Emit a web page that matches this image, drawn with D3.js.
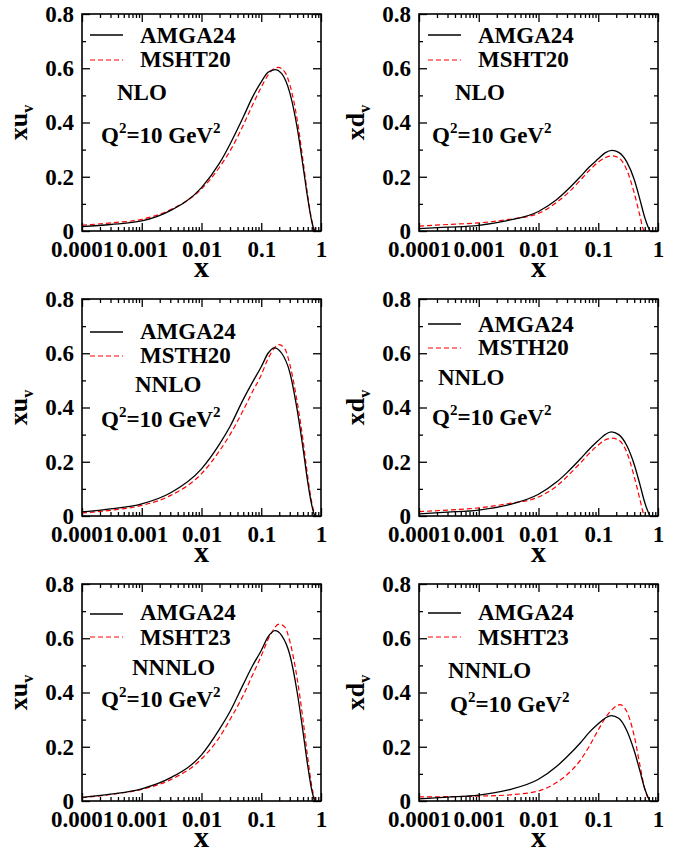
<!DOCTYPE html>
<html><head><meta charset="utf-8">
<script src="https://cdn.jsdelivr.net/npm/d3@7"></script>
<style>body{margin:0;background:#fff}svg{display:block}</style>
</head><body>
<script>
// ---------- data ----------
const xTickValues = [1e-4, 1e-3, 1e-2, 1e-1, 1];
const xTickLabels = ["0.0001", "0.001", "0.01", "0.1", "1"];
const yTickValues = [0, 0.2, 0.4, 0.6, 0.8];
const yTickLabels = ["0", "0.2", "0.4", "0.6", "0.8"];
const yMinorValues = [0.1, 0.3, 0.5, 0.7];
const seriesNames = ["AMGA24", "MSHT20", "MSTH20", "MSHT23"];
const orderLabels = ["NLO", "NNLO", "NNNLO"];

const xuv_NLO_AMGA = [[1e-4,0.016],[3e-4,0.024],[1e-3,0.037],[3e-3,0.075],[0.01,0.16],[0.02,0.25],[0.03,0.32],[0.05,0.42],[0.07,0.49],[0.1,0.55],[0.13,0.585],[0.17,0.595],[0.22,0.58],[0.3,0.51],[0.4,0.38],[0.5,0.24],[0.6,0.12],[0.7,0.035],[0.77,0]];
const xuv_NLO_MSHT = [[1e-4,0.021],[3e-4,0.03],[1e-3,0.043],[3e-3,0.078],[0.01,0.155],[0.02,0.235],[0.03,0.295],[0.05,0.39],[0.07,0.46],[0.1,0.53],[0.13,0.575],[0.19,0.603],[0.25,0.585],[0.3,0.54],[0.4,0.41],[0.5,0.26],[0.6,0.13],[0.7,0.04],[0.79,0]];
const xdv_NLO_AMGA = [[1e-4,0.009],[3e-4,0.014],[1e-3,0.021],[3e-3,0.038],[0.01,0.072],[0.02,0.115],[0.03,0.15],[0.05,0.2],[0.07,0.235],[0.1,0.266],[0.13,0.288],[0.17,0.297],[0.22,0.29],[0.3,0.255],[0.4,0.19],[0.5,0.115],[0.6,0.05],[0.7,0.01],[0.74,0]];
const xdv_NLO_MSHT = [[1e-4,0.018],[3e-4,0.024],[1e-3,0.03],[3e-3,0.042],[0.01,0.065],[0.02,0.105],[0.03,0.137],[0.05,0.187],[0.07,0.222],[0.1,0.254],[0.13,0.27],[0.17,0.277],[0.22,0.27],[0.3,0.225],[0.4,0.14],[0.5,0.055],[0.57,0.005],[0.6,0]];
const xuv_NNLO_AMGA = [[1e-4,0.015],[3e-4,0.026],[1e-3,0.045],[3e-3,0.085],[0.01,0.174],[0.02,0.265],[0.03,0.33],[0.05,0.43],[0.07,0.49],[0.1,0.55],[0.13,0.6],[0.165,0.62],[0.22,0.6],[0.3,0.53],[0.4,0.39],[0.5,0.25],[0.6,0.125],[0.7,0.04],[0.78,0]];
const xuv_NNLO_MSHT = [[1e-4,0.011],[3e-4,0.021],[1e-3,0.039],[3e-3,0.075],[0.01,0.156],[0.02,0.24],[0.03,0.3],[0.05,0.39],[0.07,0.455],[0.1,0.52],[0.13,0.58],[0.2,0.632],[0.25,0.615],[0.3,0.56],[0.4,0.42],[0.5,0.28],[0.6,0.145],[0.7,0.05],[0.8,0]];
const xdv_NNLO_AMGA = [[1e-4,0.008],[3e-4,0.014],[1e-3,0.022],[3e-3,0.04],[0.01,0.08],[0.02,0.125],[0.03,0.16],[0.05,0.21],[0.07,0.245],[0.1,0.278],[0.13,0.3],[0.165,0.31],[0.22,0.3],[0.3,0.26],[0.4,0.19],[0.5,0.115],[0.6,0.05],[0.7,0.01],[0.74,0]];
const xdv_NNLO_MSHT = [[1e-4,0.016],[3e-4,0.022],[1e-3,0.03],[3e-3,0.045],[0.01,0.07],[0.02,0.11],[0.03,0.145],[0.05,0.195],[0.07,0.23],[0.1,0.262],[0.13,0.28],[0.17,0.287],[0.22,0.28],[0.3,0.235],[0.4,0.145],[0.5,0.06],[0.57,0.01],[0.6,0]];
const xuv_NNNLO_AMGA = [[1e-4,0.013],[3e-4,0.025],[1e-3,0.045],[3e-3,0.085],[0.01,0.17],[0.02,0.265],[0.03,0.33],[0.05,0.43],[0.07,0.495],[0.1,0.555],[0.13,0.605],[0.17,0.628],[0.22,0.61],[0.3,0.54],[0.4,0.4],[0.5,0.255],[0.6,0.13],[0.7,0.04],[0.78,0]];
const xuv_NNNLO_MSHT = [[1e-4,0.012],[3e-4,0.024],[1e-3,0.043],[3e-3,0.078],[0.01,0.155],[0.02,0.235],[0.03,0.3],[0.05,0.39],[0.07,0.46],[0.1,0.535],[0.14,0.61],[0.2,0.652],[0.25,0.64],[0.3,0.59],[0.4,0.45],[0.5,0.3],[0.6,0.16],[0.7,0.055],[0.8,0]];
const xdv_NNNLO_AMGA = [[1e-4,0.008],[3e-4,0.014],[1e-3,0.022],[3e-3,0.04],[0.01,0.08],[0.02,0.127],[0.03,0.163],[0.05,0.214],[0.07,0.252],[0.1,0.285],[0.13,0.305],[0.165,0.315],[0.22,0.305],[0.3,0.26],[0.4,0.185],[0.5,0.11],[0.6,0.045],[0.7,0.008],[0.73,0]];
const xdv_NNNLO_MSHT = [[1e-4,0.015],[3e-4,0.016],[1e-3,0.018],[3e-3,0.022],[0.01,0.037],[0.02,0.068],[0.03,0.097],[0.05,0.15],[0.07,0.2],[0.1,0.262],[0.13,0.305],[0.17,0.337],[0.23,0.355],[0.3,0.33],[0.4,0.24],[0.5,0.13],[0.6,0.045],[0.7,0.005],[0.72,0]];

// ---------- layout ----------
const W = 685, H = 850;
const colX = [82, 419], pw = 239;
const rowY = [14, 299, 584], ph = 217;
const FONT = "'Liberation Serif','Times New Roman',serif";

const panels = [
  {r:0,c:0,q:"u",ord:0,ref:1,a:xuv_NLO_AMGA,b:xuv_NLO_MSHT, leg:[{lx:8,ly:21,ty:29},{lx:8,ly:46,ty:53}],  tx:58, ordPos:[35,86], qPos:[19,129]},
  {r:0,c:1,q:"d",ord:0,ref:1,a:xdv_NLO_AMGA,b:xdv_NLO_MSHT, leg:[{lx:9,ly:21,ty:29},{lx:9,ly:46,ty:53}],  tx:59, ordPos:[36,86], qPos:[13,129]},
  {r:1,c:0,q:"u",ord:1,ref:2,a:xuv_NNLO_AMGA,b:xuv_NNLO_MSHT, leg:[{lx:8,ly:33,ty:40},{lx:8,ly:57,ty:64}], tx:58, ordPos:[53,93], qPos:[19,128]},
  {r:1,c:1,q:"d",ord:1,ref:2,a:xdv_NNLO_AMGA,b:xdv_NNLO_MSHT, leg:[{lx:9,ly:25,ty:33},{lx:9,ly:49,ty:56}], tx:59, ordPos:[19,86], qPos:[13,126]},
  {r:2,c:0,q:"u",ord:2,ref:3,a:xuv_NNNLO_AMGA,b:xuv_NNNLO_MSHT, leg:[{lx:8,ly:30,ty:36},{lx:8,ly:53,ty:61}], tx:58, ordPos:[50,91], qPos:[19,123]},
  {r:2,c:1,q:"d",ord:2,ref:3,a:xdv_NNNLO_AMGA,b:xdv_NNNLO_MSHT, leg:[{lx:9,ly:29,ty:36},{lx:9,ly:53,ty:61}], tx:59, ordPos:[29,94], qPos:[31,128]}
];

const svg = d3.select("body").append("svg").attr("width", W).attr("height", H)
  .style("font-family", FONT).style("font-weight", "bold");

const xMinor = [];
for (let e = -4; e < 0; e++) for (let m = 2; m <= 9; m++) xMinor.push(m * Math.pow(10, e));

panels.forEach(p => {
  const g = svg.append("g").attr("transform", `translate(${colX[p.c]},${rowY[p.r]})`);
  const x = d3.scaleLog().domain([1e-4, 1]).range([0, pw]);
  const y = d3.scaleLinear().domain([0, 0.8]).range([ph, 0]);

  // curves
  const line = d3.line().x(d => x(d[0])).y(d => y(d[1])).curve(d3.curveMonotoneX);
  g.append("path").datum(p.b).attr("d", line).attr("fill", "none")
    .attr("stroke", "#ff0000").attr("stroke-width", 1.2).attr("stroke-dasharray", "5,3");
  g.append("path").datum(p.a).attr("d", line).attr("fill", "none")
    .attr("stroke", "#000").attr("stroke-width", 1.3);

  // axes: ticks inward on all four sides
  const fmtX = (d, i) => xTickLabels[i];
  const fmtY = (d, i) => yTickLabels[i];
  const styleAxis = sel => { sel.select(".domain").remove(); sel.selectAll("line").attr("stroke", "#000").attr("stroke-width", 1.3); };

  g.append("g").attr("transform", `translate(0,${ph})`)
    .call(d3.axisBottom(x).tickValues(xTickValues).tickFormat(fmtX).tickSize(-8).tickPadding(10))
    .call(styleAxis)
    .selectAll("text").attr("fill", "#000").style("font-size", "23px").style("font-family", FONT);
  g.append("g").attr("transform", `translate(0,${ph})`)
    .call(d3.axisBottom(x).tickValues(xMinor).tickFormat("").tickSize(-4)).call(styleAxis);
  g.append("g")
    .call(d3.axisTop(x).tickValues(xTickValues).tickFormat("").tickSize(-8)).call(styleAxis);
  g.append("g")
    .call(d3.axisTop(x).tickValues(xMinor).tickFormat("").tickSize(-4)).call(styleAxis);

  g.append("g")
    .call(d3.axisLeft(y).tickValues(yTickValues).tickFormat(fmtY).tickSize(-8).tickPadding(8))
    .call(styleAxis)
    .selectAll("text").attr("fill", "#000").style("font-size", "23px").style("font-family", FONT);
  g.append("g")
    .call(d3.axisLeft(y).tickValues(yMinorValues).tickFormat("").tickSize(-4)).call(styleAxis);
  g.append("g").attr("transform", `translate(${pw},0)`)
    .call(d3.axisRight(y).tickValues(yTickValues).tickFormat("").tickSize(-8)).call(styleAxis);
  g.append("g").attr("transform", `translate(${pw},0)`)
    .call(d3.axisRight(y).tickValues(yMinorValues).tickFormat("").tickSize(-4)).call(styleAxis);

  // frame
  g.append("rect").attr("x", 0).attr("y", 0).attr("width", pw).attr("height", ph)
    .attr("fill", "none").attr("stroke", "#000").attr("stroke-width", 1.6);

  // axis titles
  g.append("text").attr("x", pw / 2).attr("y", ph + 46).attr("text-anchor", "middle")
    .style("font-size", "30px").text("x");
  const yl = g.append("text").attr("transform", `translate(${-55},${ph / 2}) rotate(-90)`)
    .attr("text-anchor", "middle").style("font-size", "26px");
  yl.append("tspan").text("x" + p.q);
  yl.append("tspan").attr("dy", 6).style("font-size", "16px").text("v");

  // legend
  const names = [seriesNames[0], seriesNames[p.ref]];
  const colors = ["#000", "#ff0000"];
  p.leg.forEach((L, i) => {
    g.append("line").attr("x1", L.lx).attr("x2", L.lx + 33).attr("y1", L.ly).attr("y2", L.ly)
      .attr("stroke", colors[i]).attr("stroke-width", i ? 1.2 : 1.5)
      .attr("stroke-dasharray", i ? "5,3" : null);
    g.append("text").attr("x", p.tx).attr("y", L.ty).style("font-size", "23px").text(names[i]);
  });

  // annotations
  g.append("text").attr("x", p.ordPos[0]).attr("y", p.ordPos[1]).style("font-size", "23px").text(orderLabels[p.ord]);
  const qt = g.append("text").attr("x", p.qPos[0]).attr("y", p.qPos[1]).style("font-size", "23px");
  qt.append("tspan").text("Q");
  qt.append("tspan").attr("dy", -10).style("font-size", "15px").text("2");
  qt.append("tspan").attr("dy", 10).text("=10 GeV");
  qt.append("tspan").attr("dy", -10).style("font-size", "15px").text("2");
});
</script>
</body></html>
